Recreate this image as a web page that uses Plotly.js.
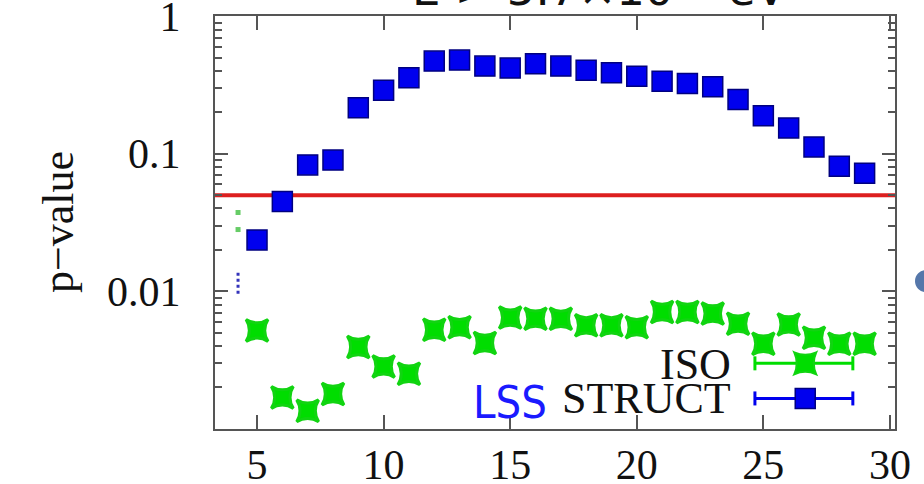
<!DOCTYPE html>
<html>
<head>
<meta charset="utf-8">
<script src="https://cdn.plot.ly/plotly-3.0.1.min.js"></script>
<style>html,body{margin:0;padding:0;background:#fff;}#chart{width:924px;height:484px;}</style>
</head>
<body>
<div id="chart"></div>
<script>
// ---- data ----
const X_VALUES = [5,6,7,8,9,10,11,12,13,14,15,16,17,18,19,20,21,22,23,24,25,26,27,28,29];
const STRUCT_P = [0.0236,0.045,0.083,0.090,0.216,0.29,0.357,0.472,0.48,0.434,0.42,0.452,0.434,0.405,0.388,0.367,0.337,0.324,0.307,0.248,0.189,0.154,0.112,0.081,0.072];
const ISO_P = [0.00519,0.00169,0.00135,0.00179,0.00393,0.00284,0.00251,0.00525,0.00548,0.0042,0.00643,0.00632,0.0063,0.00565,0.00565,0.00548,0.00706,0.00706,0.00688,0.00581,0.00415,0.00574,0.00459,0.00415,0.00415];
// small partial points at the left edge
const EDGE_X = [4.25, 4.25];
const ISO_EDGE_P = [0.0374, 0.0281];
const STRUCT_EDGE_P = [0.01365, 0.0093];
// significance threshold
const THRESHOLD_P = 0.05;
const X_RANGE = [3.34, 30.2];
const Y_LOG_RANGE = [-3.002, 0.002];
const X_TICKS = [5,10,15,20,25,30];
const X_TICK_LABELS = ['5','10','15','20','25','30'];
const Y_TICKS = [0.01, 0.1, 1];
const Y_TICK_LABELS = ['0.01','0.1','1'];
const Y_MINOR = [];
[0.001,0.01,0.1].forEach(d => { for (let k = 2; k <= 9; k++) Y_MINOR.push(+(d*k).toPrecision(3)); });
const TITLE = 'E > 5.7×10<sup>19</sup> eV';
const LEGEND_LABELS = ['ISO', 'STRUCT'];

const SERIF = 'Liberation Serif, Times New Roman, serif';
const GREEN = '#00dd00';
const BLUE = '#0000ee';
const AXIS = '#555555';

const traces = [
  {x: X_RANGE, y: X_RANGE.map(() => THRESHOLD_P), mode: 'lines',
   line: {color: '#dd1f1f', width: 4}, hoverinfo: 'skip', showlegend: false},
  {x: X_VALUES, y: STRUCT_P, mode: 'markers', name: LEGEND_LABELS[1], showlegend: false,
   marker: {symbol: 'square', size: 20, color: BLUE, line: {color: '#000080', width: 1.5}}},
  {x: X_VALUES, y: ISO_P, mode: 'markers', name: LEGEND_LABELS[0], showlegend: false,
   marker: {symbol: 'star-square', size: 20, color: GREEN, line: {color: '#11d411', width: 3}}},
  {x: EDGE_X, y: ISO_EDGE_P, mode: 'markers', showlegend: false, hoverinfo: 'skip',
   marker: {symbol: 'square', size: 5, color: '#66cc66'}},
  {x: EDGE_X, y: STRUCT_EDGE_P, mode: 'lines', showlegend: false, hoverinfo: 'skip',
   line: {color: '#3333bb', width: 3, dash: 'dot'}}
];

// legend (text left of sample, like the reference)
const legX0 = 0.794, legX1 = 0.938, legXc = 0.868;
const legY = [0.159, 0.074];
const legCol = [GREEN, BLUE];
const shapes = [];
legY.forEach((yy, i) => {
  shapes.push({type: 'line', xref: 'paper', yref: 'paper', x0: legX0, x1: legX1, y0: yy, y1: yy,
               line: {color: legCol[i], width: 3}});
  [legX0, legX1].forEach(xx => shapes.push({type: 'line', xref: 'paper', yref: 'paper',
      x0: xx, x1: xx, ysizemode: 'pixel', yanchor: yy, y0: -7, y1: 7, line: {color: legCol[i], width: 3}}));
});
shapes.push({type: 'path', xref: 'paper', yref: 'paper', xsizemode: 'pixel', ysizemode: 'pixel',
  xanchor: legXc, yanchor: legY[0], path: 'M-11,-11 Q0,-6 11,-11 Q6,0 11,11 Q0,6 -11,11 Q-6,0 -11,-11 Z',
  fillcolor: GREEN, line: {color: '#11d411', width: 2}});
shapes.push({type: 'path', xref: 'paper', yref: 'paper', xsizemode: 'pixel', ysizemode: 'pixel',
  xanchor: legXc, yanchor: legY[1], path: 'M-10,-10 L10,-10 L10,10 L-10,10 Z',
  fillcolor: BLUE, line: {color: '#000080', width: 1.5}});
// partial element at the right edge of the crop
shapes.push({type: 'circle', xref: 'paper', yref: 'paper', xsizemode: 'pixel', ysizemode: 'pixel',
  xanchor: 1.0456, yanchor: 0.358, x0: -11, x1: 11, y0: -11, y1: 11,
  fillcolor: '#5577aa', line: {width: 0}});

const annotations = [
  {text: 'p−value', xref: 'paper', yref: 'paper', x: -0.269, y: 0.5, textangle: -90,
   showarrow: false, font: {family: SERIF, size: 44, color: '#111'}},
  {text: 'LSS', xref: 'paper', yref: 'paper', x: 0.434, y: 0.064, xanchor: 'center', yanchor: 'middle',
   showarrow: false, font: {family: 'Liberation Sans Narrow, DejaVu Sans Condensed, Arial Narrow, sans-serif', size: 45, color: '#1a1aff'}},
  {text: LEGEND_LABELS[0], xref: 'paper', yref: 'paper', x: 0.762, y: 0.155, xanchor: 'right', yanchor: 'middle',
   showarrow: false, font: {family: SERIF, size: 44, color: '#111'}},
  {text: LEGEND_LABELS[1], xref: 'paper', yref: 'paper', x: 0.762, y: 0.073, xanchor: 'right', yanchor: 'middle',
   showarrow: false, font: {family: SERIF, size: 44, color: '#111'}}
];

const layout = {
  width: 924, height: 484,
  margin: {l: 215, r: 29, t: 16, b: 55, pad: 0},
  paper_bgcolor: '#ffffff', plot_bgcolor: '#ffffff',
  showlegend: false,
  title: {text: TITLE, x: 0.565, xanchor: 'center', xref: 'paper', y: 0.99, yref: 'container', yanchor: 'bottom',
          font: {family: 'DejaVu Sans, sans-serif', size: 45, color: '#111'}},
  xaxis: {range: X_RANGE, tickmode: 'array', tickvals: X_TICKS, ticktext: X_TICK_LABELS,
          ticks: 'inside', ticklen: 14, tickwidth: 2, tickcolor: AXIS,
          showline: true, linecolor: AXIS, linewidth: 2, mirror: 'allticks',
          showgrid: false, zeroline: false, ticklabelstandoff: -2, ticklabeloverflow: 'allow',
          tickfont: {family: SERIF, size: 42, color: '#111'}},
  yaxis: {type: 'log', range: Y_LOG_RANGE, tickmode: 'array', tickvals: Y_TICKS, ticktext: Y_TICK_LABELS,
          ticks: 'inside', ticklen: 13, tickwidth: 2, tickcolor: AXIS,
          minor: {tickmode: 'array', tickvals: Y_MINOR, ticks: 'inside', ticklen: 7, tickwidth: 2, tickcolor: AXIS, showgrid: false},
          showline: true, linecolor: AXIS, linewidth: 2, mirror: 'allticks',
          showgrid: false, zeroline: false, ticklabelstandoff: 24, ticklabeloverflow: 'allow',
          tickfont: {family: SERIF, size: 42, color: '#111'}},
  shapes: shapes,
  annotations: annotations
};

Plotly.newPlot('chart', traces, layout, {staticPlot: true, displayModeBar: false});
</script>
</body>
</html>
